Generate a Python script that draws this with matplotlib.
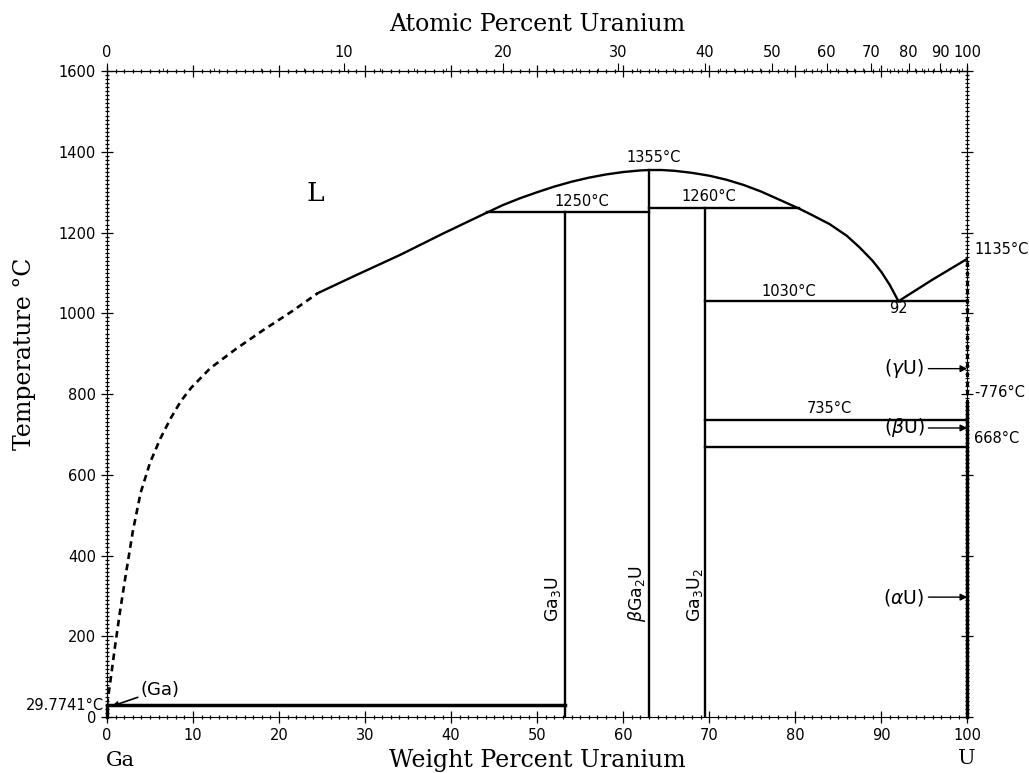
import numpy as np
import matplotlib
matplotlib.use('Agg')
import matplotlib.pyplot as plt
from matplotlib.ticker import MultipleLocator, FixedLocator

# atomic weights, used only for the top (atomic percent) axis
M_GA = 69.723
M_U = 238.029

# liquidus, Ga-rich side (dashed = estimated part)
liq_dash_x = [0, 0.4, 0.9, 1.5, 2.2, 3.0, 3.9, 5.0, 6.2, 7.4, 8.6, 9.8, 12.0,
              15.0, 18.2, 21.5, 24.5]
liq_dash_T = [29.77, 90, 170, 260, 355, 460, 555, 630, 690, 740, 783, 816, 864,
              912, 959, 1005, 1050]
liq_solid_x = [24.5, 29, 34.1, 39, 44.2]
liq_solid_T = [1050, 1095, 1145, 1197, 1250]
# liquidus over the compounds down to the eutectic at 92 wt%
liq_up_x = [44.2, 46, 48, 50, 52, 54, 56, 58, 60, 62, 63.06, 64.5, 66, 68, 70,
            72, 74, 76, 78, 80.4, 82, 84, 86, 87.5, 89, 90, 91, 92]
liq_up_T = [1250, 1268, 1285, 1300, 1314, 1326, 1336, 1344, 1350, 1354, 1355,
            1355, 1353, 1348, 1341, 1331, 1318, 1302, 1283, 1260, 1243, 1221,
            1192, 1163, 1130, 1103, 1070, 1030]
# liquidus U side
liq_u_x = [92, 96, 100]
liq_u_T = [1030, 1084, 1135]

# invariant lines: temperature, x start, x end
inv_T = [29.7741, 1250, 1260, 1030, 735, 668]
inv_x0 = [0, 44.2, 63.06, 69.47, 69.47, 69.47]
inv_x1 = [53.2, 63.06, 80.4, 100, 100, 100]

# compounds
comp_x = [53.2, 63.06, 69.47]
comp_T = [1250, 1355, 1260]
comp_names = ['Ga$_3$U', r'$\beta$Ga$_2$U', 'Ga$_3$U$_2$']

# pure U transitions
u_alpha_beta = 668
u_beta_gamma = 776
u_melt = 1135


def wt_to_at(w):
    w = np.clip(np.asarray(w, dtype=float), 0, 100)
    nu = w / M_U
    ng = (100 - w) / M_GA
    return 100 * nu / np.maximum(nu + ng, 1e-12)


def at_to_wt(a):
    a = np.clip(np.asarray(a, dtype=float), 0, 100)
    mu = a * M_U
    mg = (100 - a) * M_GA
    return 100 * mu / np.maximum(mu + mg, 1e-12)


fig = plt.figure(figsize=(10.29, 7.73), dpi=100, facecolor='white')
ax = fig.add_axes([0.104, 0.0724, 0.836, 0.8356])
lw = 1.7

ax.plot(liq_dash_x, liq_dash_T, color='black', lw=1.9, ls=(0, (2.5, 1.8)))
ax.plot(liq_solid_x, liq_solid_T, color='black', lw=lw)
ax.plot(liq_up_x, liq_up_T, color='black', lw=lw)
ax.plot(liq_u_x, liq_u_T, color='black', lw=lw)

for T, x0, x1 in zip(inv_T, inv_x0, inv_x1):
    ax.plot([x0, x1], [T, T], color='black', lw=lw + (0.8 if T < 100 else 0))

for x, T in zip(comp_x, comp_T):
    ax.plot([x, x], [0, T], color='black', lw=lw)

# pure U side
ax.plot([100, 100], [0, u_beta_gamma], color='black', lw=2.4, clip_on=False)
ax.plot([100, 100], [u_beta_gamma, u_melt], color='black', lw=2.2,
        ls=(0, (1.5, 1.5)), clip_on=False)
ax.plot([0, 0], [0, 29.77], color='black', lw=2.4, clip_on=False)

ax.set_xlim(0, 100)
ax.set_ylim(0, 1600)
ax.xaxis.set_major_locator(MultipleLocator(10))
ax.xaxis.set_minor_locator(MultipleLocator(1))
ax.yaxis.set_major_locator(MultipleLocator(200))
ax.yaxis.set_minor_locator(MultipleLocator(10))
ax.tick_params(which='major', direction='inout', length=8, width=0.9,
               labelsize=10.5, top=True, right=True, pad=4)
ax.tick_params(which='minor', direction='inout', length=3, width=0.9,
               top=True, right=True)
for s in ax.spines.values():
    s.set_linewidth(0.8)

top = ax.secondary_xaxis('top', functions=(wt_to_at, at_to_wt))
top.xaxis.set_major_locator(FixedLocator(np.arange(0, 101, 10)))
top.xaxis.set_minor_locator(FixedLocator(np.arange(0, 101, 2)))
top.tick_params(which='major', direction='out', length=6, labelsize=10.5, pad=2)
top.tick_params(which='minor', direction='out', length=2)
top.set_xlabel('Atomic Percent Uranium', family='DejaVu Serif', fontsize=17,
               labelpad=10)

ax.set_xlabel('Weight Percent Uranium', family='DejaVu Serif', fontsize=17,
              labelpad=4)
ax.set_ylabel('Temperature °C', family='DejaVu Serif', fontsize=17, labelpad=16,
              y=0.563)

fs = 10.5
ax.text(24.2, 1298, 'L', family='DejaVu Serif', fontsize=19, ha='center', va='center')
ax.text(63.5, 1385, '1355°C', fontsize=fs, ha='center', va='center')
ax.text(55.2, 1278, '1250°C', fontsize=fs, ha='center', va='center')
ax.text(70.0, 1290, '1260°C', fontsize=fs, ha='center', va='center')
ax.text(79.2, 1055, '1030°C', fontsize=fs, ha='center', va='center')
ax.text(84.0, 765, '735°C', fontsize=fs, ha='center', va='center')
ax.text(92.0, 1013, '92', fontsize=fs, ha='center', va='center')
ax.text(100.8, 1157, '1135°C', fontsize=fs, ha='left', va='center', clip_on=False)
ax.text(100.8, 805, '-776°C', fontsize=fs, ha='left', va='center', clip_on=False)
ax.text(100.8, 690, '668°C', fontsize=fs, ha='left', va='center', clip_on=False)
ax.text(-0.4, 29.77, '29.7741°C', fontsize=fs, ha='right', va='center', clip_on=False)

label_x = [51.9, 61.6, 68.4]
for lx, name in zip(label_x, comp_names):
    ax.text(lx, 235, name, fontsize=12.5, rotation=90, ha='center', va='bottom')

for name, T in [(r'($\gamma$U)', 863), (r'($\beta$U)', 716), (r'($\alpha$U)', 297)]:
    ax.annotate(name, xy=(100, T), xytext=(95.0, T), fontsize=13.5,
                ha='right', va='center',
                arrowprops=dict(arrowstyle='-|>', color='black', lw=1,
                                mutation_scale=10, shrinkA=1, shrinkB=0))

ax.annotate('(Ga)', xy=(0.6, 27), xytext=(3.9, 68), fontsize=13,
            ha='left', va='center',
            arrowprops=dict(arrowstyle='-|>', color='black', lw=1.2,
                            mutation_scale=8, shrinkA=0, shrinkB=0))

fig.text(120 / 1029, 1 - 760 / 773, 'Ga', family='DejaVu Serif', fontsize=15,
         ha='center', va='center')
fig.text(967 / 1029, 1 - 758 / 773, 'U', family='DejaVu Serif', fontsize=15,
         ha='center', va='center')

fig.savefig('out.png', dpi=100)
